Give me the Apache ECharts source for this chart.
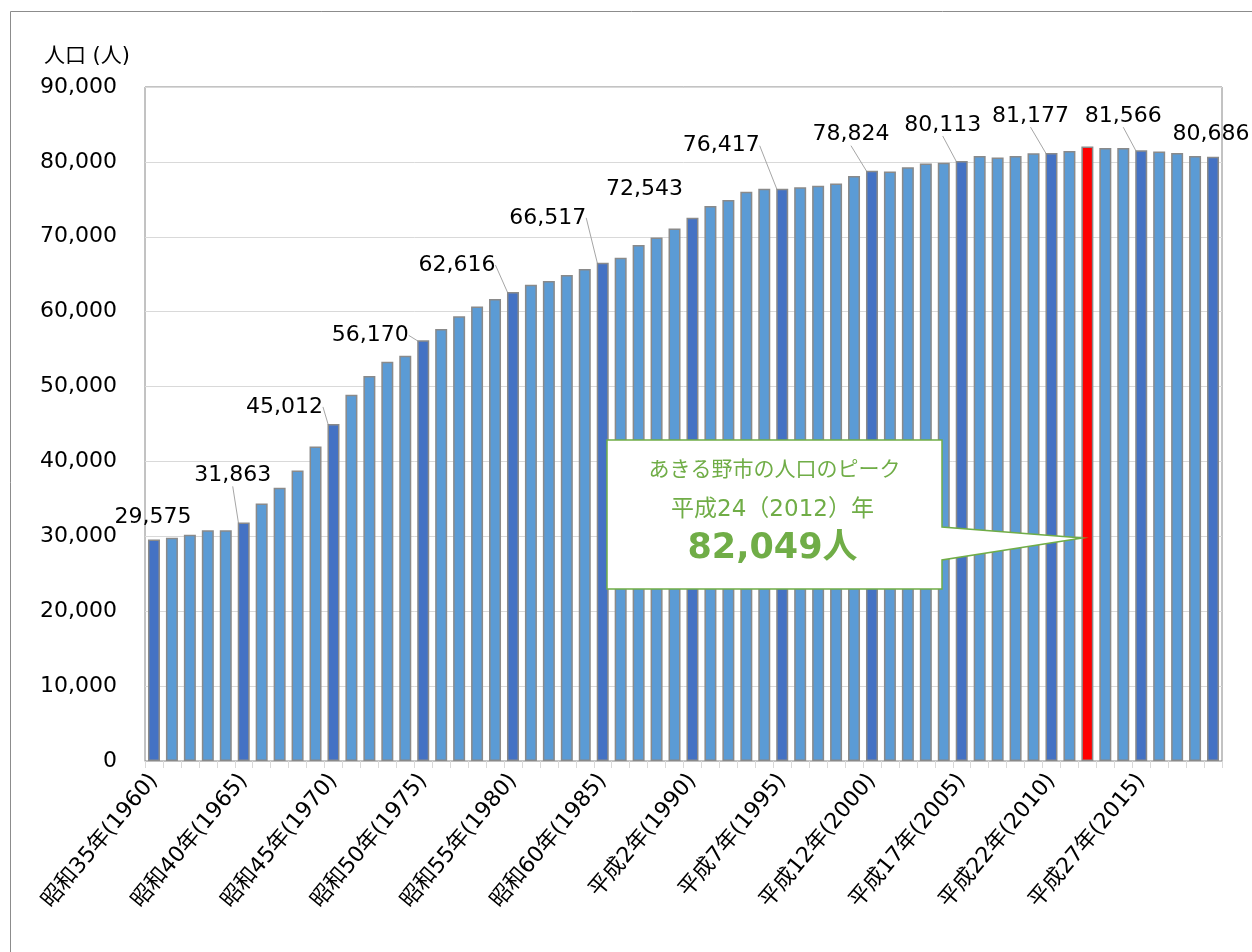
<!DOCTYPE html>
<html>
<head>
<meta charset="utf-8">
<script src="https://cdn.jsdelivr.net/npm/echarts@6/dist/echarts.min.js"></script>
<style>
html,body{margin:0;padding:0;background:#fff;}
#chart{width:1252px;height:952px;}
</style>
</head>
<body>
<div id="chart"></div>
<script>
// ---- data ----
var categories = [
'昭和35年(1960)','昭和36年(1961)','昭和37年(1962)','昭和38年(1963)','昭和39年(1964)',
'昭和40年(1965)','昭和41年(1966)','昭和42年(1967)','昭和43年(1968)','昭和44年(1969)',
'昭和45年(1970)','昭和46年(1971)','昭和47年(1972)','昭和48年(1973)','昭和49年(1974)',
'昭和50年(1975)','昭和51年(1976)','昭和52年(1977)','昭和53年(1978)','昭和54年(1979)',
'昭和55年(1980)','昭和56年(1981)','昭和57年(1982)','昭和58年(1983)','昭和59年(1984)',
'昭和60年(1985)','昭和61年(1986)','昭和62年(1987)','昭和63年(1988)','平成元年(1989)',
'平成2年(1990)','平成3年(1991)','平成4年(1992)','平成5年(1993)','平成6年(1994)',
'平成7年(1995)','平成8年(1996)','平成9年(1997)','平成10年(1998)','平成11年(1999)',
'平成12年(2000)','平成13年(2001)','平成14年(2002)','平成15年(2003)','平成16年(2004)',
'平成17年(2005)','平成18年(2006)','平成19年(2007)','平成20年(2008)','平成21年(2009)',
'平成22年(2010)','平成23年(2011)','平成24年(2012)','平成25年(2013)','平成26年(2014)',
'平成27年(2015)','平成28年(2016)','平成29年(2017)','平成30年(2018)','令和元年(2019)'
];
var population = [
29575, 29800, 30200, 30800, 30800, 31863, 34400, 36500, 38800, 42000,
45012, 48900, 51400, 53300, 54100, 56170, 57700, 59400, 60700, 61700,
62616, 63600, 64100, 64900, 65700, 66517, 67200, 68900, 69900, 71100,
72543, 74100, 74900, 76000, 76400, 76417, 76600, 76800, 77100, 78100,
78824, 78700, 79300, 79800, 79900, 80113, 80800, 80600, 80800, 81150,
81177, 81450, 82049, 81850, 81850, 81566, 81400, 81200, 80800, 80686
];
var darkIndices = [0, 5, 10, 15, 20, 25, 30, 35, 40, 45, 50, 55, 59];
var labeledIndices = [0, 5, 10, 15, 20, 25, 30, 35, 40, 45, 50, 55, 59];
var peakIndex = 52;
var yTicks = [0, 10000, 20000, 30000, 40000, 50000, 60000, 70000, 80000, 90000];
var yAxisName = '人口 (人)';
var calloutLines = ['あきる野市の人口のピーク', '平成24（2012）年', '82,049人'];

// ---- layout / styles (not data) ----
var labelShift = {
  0: [-1, -6, false], 5: [-11, -31, true], 10: [-49, -1, true], 15: [-53, 11, true],
  20: [-56, -11, true], 25: [-55, -29, true], 30: [-48, -12, false], 35: [-61, -27, true],
  40: [-21, -20, true], 45: [-19, -20, true], 50: [-21, -21, true], 55: [-18, -18, true],
  59: [-2, -6, false]
};
var COLOR_LIGHT = '#5B9BD5', COLOR_DARK = '#4472C4', COLOR_PEAK = '#FF0000';
var GREEN = '#70AD47';
var FONT_MIX = '"DejaVu Sans", "Noto Sans CJK JP", sans-serif';

function fmt(v) { return String(v).replace(/\B(?=(\d{3})+(?!\d))/g, ','); }

var seriesData = population.map(function (v, i) {
  var color = i === peakIndex ? COLOR_PEAK : (darkIndices.indexOf(i) >= 0 ? COLOR_DARK : COLOR_LIGHT);
  var item = { value: v, itemStyle: { color: color } };
  if (labeledIndices.indexOf(i) >= 0) {
    item.label = { show: true };
    item.labelLine = { show: labelShift[i][2] };
  }
  return item;
});

var chart = echarts.init(document.getElementById('chart'), null, { renderer: 'canvas' });
var option = {
  animation: false,
  backgroundColor: '#ffffff',
  grid: { left: 145, right: 30, top: 87, bottom: 191, show: true, borderColor: '#868686', borderWidth: 1 },
  xAxis: {
    type: 'category',
    data: categories,
    boundaryGap: true,
    axisLine: { show: true, lineStyle: { color: '#BFBFBF' } },
    axisTick: { show: true, interval: 0, length: 7, lineStyle: { color: '#D9D9D9' } },
    axisLabel: {
      interval: 4, rotate: 50, margin: 16,
      fontFamily: FONT_MIX, fontSize: 22, color: '#000'
    }
  },
  yAxis: {
    type: 'value',
    min: yTicks[0], max: yTicks[yTicks.length - 1], interval: yTicks[1] - yTicks[0],
    name: yAxisName,
    nameGap: 20,
    nameTextStyle: { align: 'right', padding: [0, 15, 0, 0], fontFamily: FONT_MIX, fontSize: 21, color: '#000' },
    axisLine: { show: false },
    axisTick: { show: false },
    splitLine: { show: true, lineStyle: { color: '#D9D9D9', width: 1 } },
    axisLabel: { margin: 28, fontFamily: '"DejaVu Sans", Verdana, sans-serif', fontSize: 22, color: '#000', formatter: fmt }
  },
  series: [{
    type: 'bar',
    data: seriesData,
    barWidth: 12,
    itemStyle: { borderColor: '#8A8A8A', borderWidth: 1.5 },
    label: {
      show: false, position: 'top', distance: 5,
      fontFamily: '"DejaVu Sans", Verdana, sans-serif', fontSize: 22, color: '#000',
      formatter: function (p) { return fmt(p.value); }
    },
    labelLine: { show: false, lineStyle: { color: '#A6A6A6', width: 1 } },
    labelLayout: function (p) {
      var s = labelShift[p.dataIndex];
      if (!s) return {};
      return { dx: s[0], dy: s[1] };
    }
  }]
};
chart.setOption(option);

// callout pointing to the peak bar
var peakPx = chart.convertToPixel({ seriesIndex: 0 }, [peakIndex, population[peakIndex]]);
var tipX = peakPx[0] - 5;
var bx0 = 607, by0 = 440, bx1 = 942, by1 = 589;
var tipY = 538, aTop = 527, aBot = 560;
var cx = (bx0 + bx1) / 2;
chart.setOption({
  graphic: [
    {
      type: 'rect', shape: { x: 10.5, y: 11.5, width: 1260, height: 960 },
      style: { fill: 'none', stroke: '#8C8C8C', lineWidth: 1 }, silent: true, z: -1
    },
    {
      type: 'polygon',
      shape: { points: [[bx0, by0], [bx1, by0], [bx1, aTop], [tipX, tipY], [bx1, aBot], [bx1, by1], [bx0, by1]] },
      style: { fill: '#ffffff', stroke: GREEN, lineWidth: 1.5 }, z: 100
    },
    {
      type: 'text', x: cx, y: 468, z: 101,
      style: { text: calloutLines[0], fill: GREEN, font: '21px "Noto Sans CJK JP", sans-serif', textAlign: 'center', textVerticalAlign: 'middle' }
    },
    {
      type: 'text', x: cx - 2, y: 510, z: 101,
      style: { text: calloutLines[1], fill: GREEN, font: '23px "DejaVu Sans", "Noto Sans CJK JP", sans-serif', textAlign: 'center', textVerticalAlign: 'middle' }
    },
    {
      type: 'text', x: cx - 2, y: 549, z: 101,
      style: { text: calloutLines[2], fill: GREEN, font: 'bold 35px "DejaVu Sans", "Noto Sans CJK JP", sans-serif', textAlign: 'center', textVerticalAlign: 'middle' }
    }
  ]
});
</script>
</body>
</html>
